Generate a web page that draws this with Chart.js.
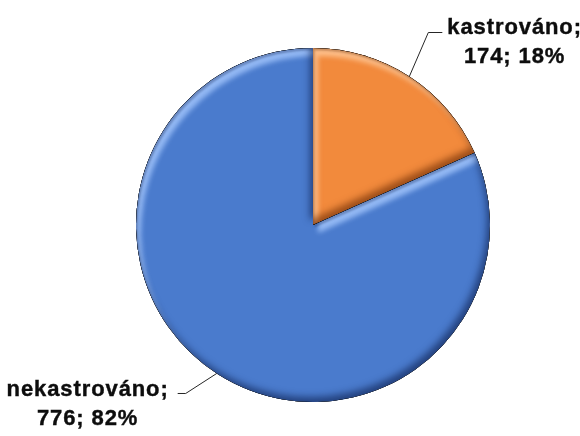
<!DOCTYPE html>
<html>
<head>
<meta charset="utf-8">
<script src="https://cdn.jsdelivr.net/npm/chart.js@4/dist/chart.umd.min.js"></script>
<style>
  html, body { margin: 0; padding: 0; background: #ffffff; }
  #wrap { width: 580px; height: 436px; }
</style>
</head>
<body>
<div id="wrap"><canvas id="c" width="580" height="436"></canvas></div>
<script>
// Neutering status of the animals
const categories = ['kastrováno', 'nekastrováno'];
const counts = [174, 776];
const sliceColors = ['#F28A3C', '#4A7BCD'];
const sliceLights = ['rgba(255,200,150,0.85)', 'rgba(160,195,250,0.85)'];
const sliceDarks = ['rgba(110,45,5,', 'rgba(15,35,85,'];

// Where each callout sits relative to the point on the slice rim it points at
const calloutLayout = [
  { elbow: [19, -44], tail: 14, side: 'right', textGap: 5, baselineShift: 1 },
  { elbow: [-31, 20], tail: -8, side: 'left', textGap: 9, baselineShift: 3 }
];
const LABEL_FONT = 'bold 22px "Liberation Sans"';
const LABEL_SPACING = '0.9px';
const LINE_HEIGHT = 29;

// Soft rounded-edge shading on each slice, lit from the upper left
const bevelPlugin = {
  id: 'bevel',
  afterDatasetsDraw(chart) {
    const ctx = chart.ctx;
    const meta = chart.getDatasetMeta(0);
    meta.data.forEach((arc, i) => {
      const { x, y, startAngle, endAngle, outerRadius } = arc;
      const slice = new Path2D();
      slice.moveTo(x, y);
      slice.arc(x, y, outerRadius, startAngle, endAngle);
      slice.closePath();
      const outside = new Path2D();
      outside.rect(-300, -300, chart.width + 600, chart.height + 600);
      outside.addPath(slice);

      const shade = (color, dx, dy, blur) => {
        ctx.save();
        ctx.shadowColor = color;
        ctx.shadowOffsetX = dx;
        ctx.shadowOffsetY = dy;
        ctx.shadowBlur = blur;
        ctx.fillStyle = '#000';
        ctx.fill(outside, 'evenodd');
        ctx.restore();
      };

      ctx.save();
      ctx.clip(slice);
      shade(sliceLights[i], 5, 8, 5);
      shade(sliceDarks[i] + '0.3)', 1.5, 2.5, 2);
      shade(sliceDarks[i] + '0.65)', -3, -5, 7);
      ctx.restore();
    });
  }
};

// Category; value; share callouts with leader lines
const calloutPlugin = {
  id: 'callouts',
  afterDraw(chart) {
    const ctx = chart.ctx;
    const meta = chart.getDatasetMeta(0);
    const total = counts.reduce((a, b) => a + b, 0);
    ctx.save();
    ctx.font = LABEL_FONT;
    ctx.letterSpacing = LABEL_SPACING;
    meta.data.forEach((arc, i) => {
      const mid = (arc.startAngle + arc.endAngle) / 2;
      const ax = arc.x + Math.cos(mid) * arc.outerRadius;
      const ay = arc.y + Math.sin(mid) * arc.outerRadius;
      const L = calloutLayout[i];
      const ex = ax + L.elbow[0];
      const ey = ay + L.elbow[1];
      const hx = ex + L.tail;

      ctx.strokeStyle = '#262626';
      ctx.lineWidth = 1;
      ctx.beginPath();
      ctx.moveTo(ax, ay);
      ctx.lineTo(ex, ey);
      ctx.lineTo(hx, ey);
      ctx.stroke();

      const line1 = categories[i] + ';';
      const line2 = counts[i] + '; ' + Math.round(counts[i] / total * 100) + '%';
      const w1 = ctx.measureText(line1).width;
      const w2 = ctx.measureText(line2).width;
      const left1 = L.side === 'right' ? hx + L.textGap : hx - L.textGap - w1;
      const center = left1 + w1 / 2;
      const base1 = ey + L.baselineShift;
      ctx.textBaseline = 'alphabetic';
      ctx.textAlign = 'left';
      ctx.fillStyle = '#0d0d0d';
      ctx.strokeStyle = '#0d0d0d';
      ctx.lineWidth = 0.4;
      ctx.fillText(line1, left1, base1);
      ctx.strokeText(line1, left1, base1);
      ctx.fillText(line2, center - w2 / 2, base1 + LINE_HEIGHT);
      ctx.strokeText(line2, center - w2 / 2, base1 + LINE_HEIGHT);
    });
    ctx.restore();
  }
};

function build() {
  new Chart(document.getElementById('c'), {
    type: 'pie',
    data: {
      labels: categories,
      datasets: [{
        data: counts,
        backgroundColor: sliceColors,
        borderWidth: 0,
        hoverOffset: 0
      }]
    },
    options: {
      responsive: false,
      devicePixelRatio: 1,
      animation: false,
      layout: { padding: { left: 100, right: 54, top: 48, bottom: 34 } },
      plugins: {
        legend: { display: false },
        tooltip: { enabled: false }
      }
    },
    plugins: [bevelPlugin, calloutPlugin]
  });
}

document.fonts.load(LABEL_FONT).then(build, build);
</script>
</body>
</html>
